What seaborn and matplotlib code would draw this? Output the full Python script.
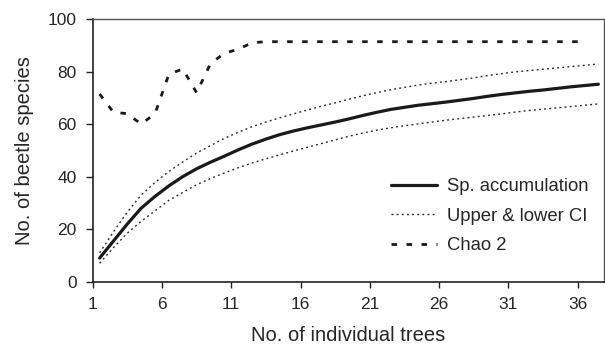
import numpy as np
import pandas as pd
import seaborn as sns
import matplotlib.pyplot as plt

# number of trees sampled (one point per tree)
trees = np.arange(1, 38)

sp_accum = [9.0, 15.5, 22.0, 28.0, 32.5, 36.5, 40.0, 43.0, 45.5, 47.8,
            50.2, 52.4, 54.3, 56.0, 57.4, 58.6, 59.7, 60.8, 62.0, 63.3,
            64.5, 65.6, 66.4, 67.2, 67.8, 68.4, 69.1, 69.8, 70.6, 71.3,
            71.9, 72.5, 73.0, 73.6, 74.2, 74.7, 75.2]

upper_ci = [11.0, 19.0, 26.5, 33.0, 37.8, 42.0, 45.6, 49.0, 51.8, 54.6,
            56.9, 59.0, 60.8, 62.4, 63.9, 65.4, 66.8, 68.1, 69.5, 70.8,
            72.0, 73.1, 74.0, 74.9, 75.6, 76.2, 76.9, 77.6, 78.5, 79.2,
            79.9, 80.4, 80.9, 81.4, 81.9, 82.4, 82.9]

lower_ci = [7.0, 13.0, 18.5, 23.0, 27.0, 31.0, 34.0, 36.9, 39.3, 41.4,
            43.4, 45.2, 46.8, 48.3, 49.8, 51.2, 52.6, 54.0, 55.4, 56.6,
            57.7, 58.6, 59.4, 60.1, 60.8, 61.5, 62.1, 62.7, 63.3, 63.9,
            64.6, 65.2, 65.7, 66.2, 66.7, 67.2, 67.7]

chao2 = [71.5, 64.5, 64.0, 60.0, 64.0, 79.0, 81.0, 72.0, 83.0, 87.0,
         88.5, 91.0, 91.4, 91.4, 91.4, 91.4, 91.4, 91.4, 91.4, 91.4,
         91.4, 91.4, 91.4, 91.4, 91.4, 91.4, 91.4, 91.4, 91.4, 91.4,
         91.4, 91.4, 91.4, 91.4, 91.4, 91.4]

tick_labels = ['1', '6', '11', '16', '21', '26', '31', '36']

sns.set_style('ticks')
plt.rcParams['font.family'] = ['Liberation Sans', 'DejaVu Sans']

fig = plt.figure(figsize=(6.05, 3.46), dpi=100)
ax = fig.add_axes([0.1532, 0.1858, 0.845, 0.759])

df = pd.DataFrame({'tree': trees, 'acc': sp_accum, 'up': upper_ci, 'lo': lower_ci})
chao_df = pd.DataFrame({'tree': trees[:len(chao2)], 'chao': chao2})

sns.lineplot(data=df, x='tree', y='acc', ax=ax, color='#1a1a1a', lw=2.3,
             label='Sp. accumulation')
sns.lineplot(data=df, x='tree', y='up', ax=ax, color='#2a2a2a', lw=1.0,
             linestyle=(0, (1.4, 2.3)), label='Upper & lower CI')
sns.lineplot(data=df, x='tree', y='lo', ax=ax, color='#2a2a2a', lw=1.0,
             linestyle=(0, (1.4, 2.3)))
sns.lineplot(data=chao_df, x='tree', y='chao', ax=ax, color='#1a1a1a', lw=2.0,
             linestyle=(0, (2.0, 3.4)), label='Chao 2')

ax.set_xlim(0.5, 37.4)
ax.set_ylim(0, 100)
ax.set_xticks(np.arange(0.5, 37, 5))
ax.set_xticklabels(tick_labels)
ax.set_yticks(np.arange(0, 101, 20))

ax.tick_params(axis='both', labelsize=12.5, color='#222222', width=1.0)
ax.tick_params(axis='x', length=4, pad=7)
ax.tick_params(axis='y', length=5, pad=6.5)

for s in ['left', 'bottom']:
    ax.spines[s].set_color('#222222')
    ax.spines[s].set_linewidth(1.2)
for s in ['top', 'right']:
    ax.spines[s].set_visible(True)
    ax.spines[s].set_color('#555555')
    ax.spines[s].set_linewidth(1.0)

ax.set_xlabel('No. of individual trees', fontsize=14.5, labelpad=10)
ax.set_ylabel('No. of beetle species', fontsize=14.5, labelpad=10)

ax.legend(loc='upper left', bbox_to_anchor=(0.646, 0.485),
          bbox_transform=fig.transFigure, frameon=False, fontsize=13.3,
          handlelength=2.5, handletextpad=0.55, labelspacing=0.68,
          borderpad=0, borderaxespad=0)

fig.savefig('out.png', dpi=100)
